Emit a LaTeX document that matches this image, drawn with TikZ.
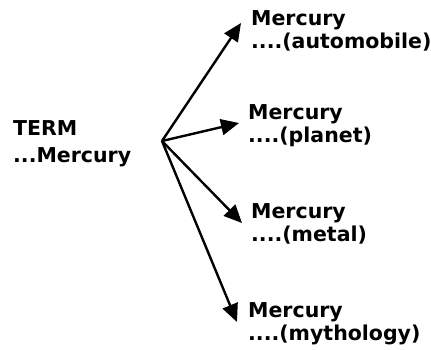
\documentclass[tikz,border=0pt]{standalone}
\usepackage{fontspec}
\setmainfont{DejaVu Sans}
\usetikzlibrary{arrows.meta}
\begin{document}
\begin{tikzpicture}[x=1pt,y=-1pt,
  lbl/.style={anchor=north west,inner sep=0pt,align=left,
    font=\bfseries\fontsize{20.5}{23}\selectfont},
  arr/.style={line width=2.4pt,-{Triangle[length=18pt,width=16pt]}}]
\useasboundingbox (0,0) rectangle (431,349);
\coordinate (o) at (162,141);
\node[lbl,font=\bfseries\fontsize{20.5}{27}\selectfont] (term) at (13,120) {TERM\\...Mercury};
\node[lbl] (auto) at (251,10) {Mercury\\....(automobile)};
\node[lbl] (planet) at (248,104) {Mercury\\....(planet)};
\node[lbl] (metal) at (251,203) {Mercury\\....(metal)};
\node[lbl] (myth) at (248,302) {Mercury\\....(mythology)};
\coordinate (ta) at (241,23);
\coordinate (tp) at (239,123);
\coordinate (tm) at (242,223);
\coordinate (ty) at (237,322);
\draw[arr] (o) -- (ta);
\draw[arr] (o) -- (tp);
\draw[arr] (o) -- (tm);
\draw[arr] (o) -- (ty);
\end{tikzpicture}
\end{document}
